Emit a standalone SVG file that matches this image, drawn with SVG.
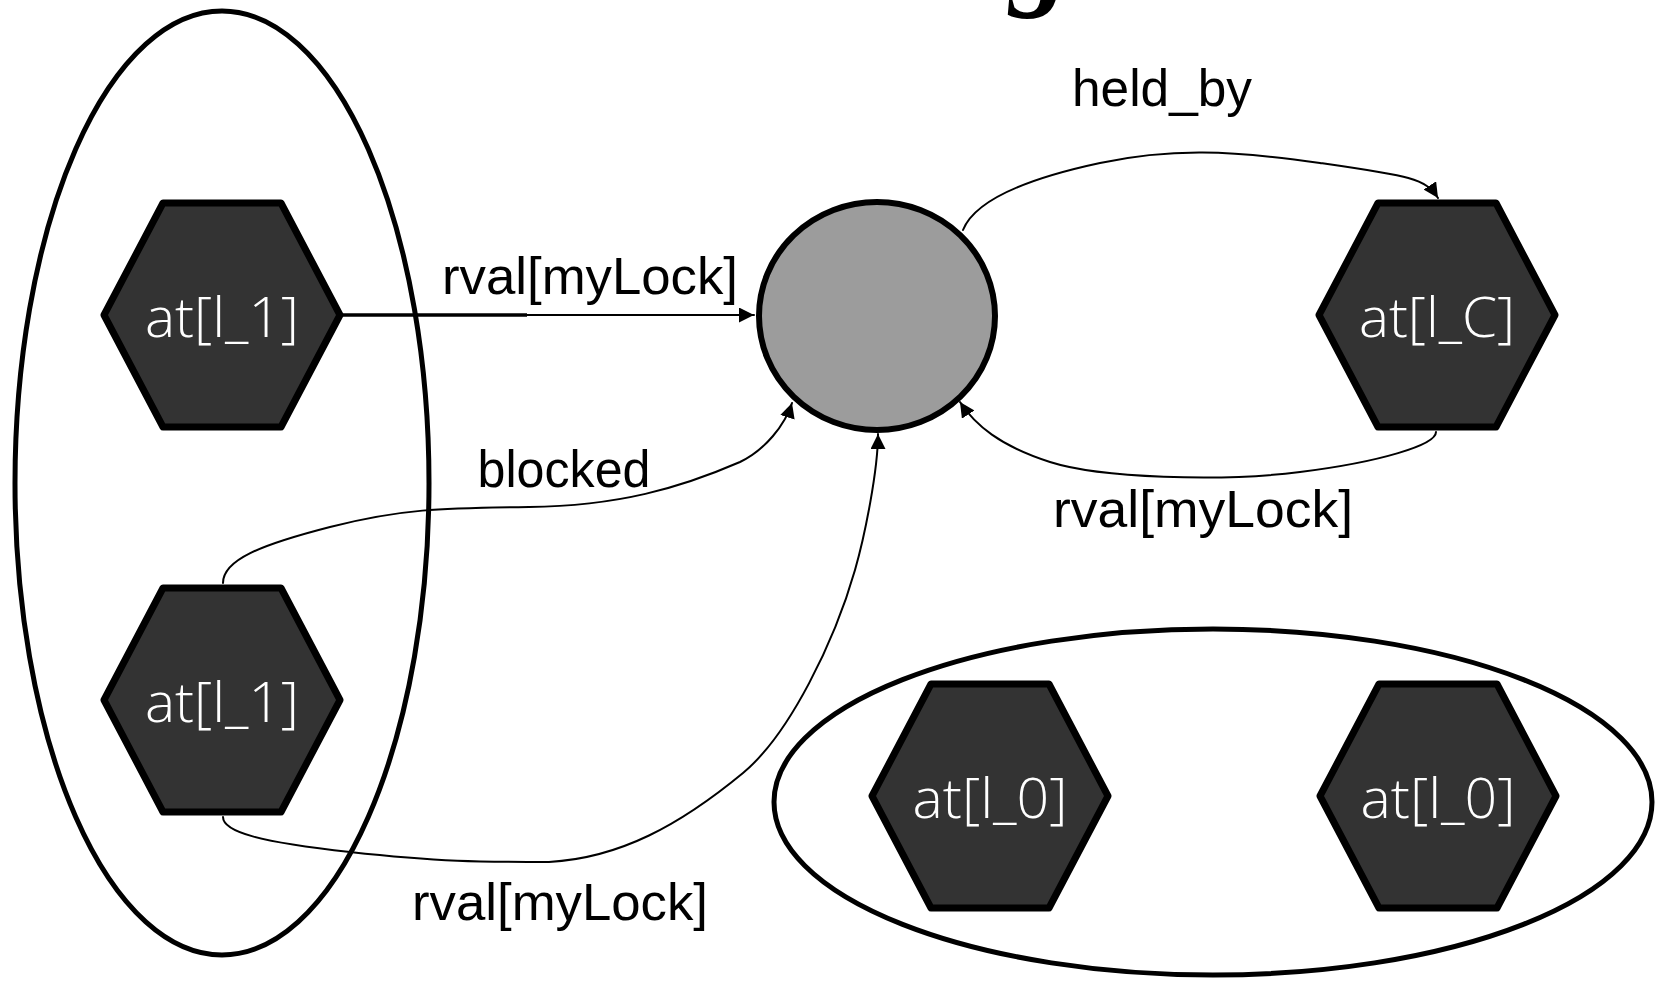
<svg xmlns="http://www.w3.org/2000/svg" width="1663" height="983" viewBox="0 0 1663 983">
<style>
.grp{fill:none;stroke:#000;stroke-width:5}
.hex{fill:#333333;stroke:#000;stroke-width:7;stroke-linejoin:round}
.nl{font-family:"Open Sans","Liberation Sans",sans-serif;font-weight:300;font-size:56px;fill:#ffffff;text-anchor:middle}
.el{font-family:"Liberation Sans",Arial,sans-serif;font-size:52px;fill:#000;text-anchor:middle}
.c{fill:none;stroke:#000;stroke-width:2;stroke-linejoin:round;stroke-linecap:round}
</style>
<defs>
<path id="hx" d="M-118,0 L-59,-112 L59,-112 L118,0 L59,112 L-59,112 Z"/>
<marker id="ah" markerUnits="userSpaceOnUse" markerWidth="16" markerHeight="16" refX="15" refY="7.5" orient="auto">
<path d="M0,0 L15,7.5 L0,15 Z" fill="#000"/>
</marker>
</defs>
<rect width="1663" height="983" fill="#fff"/>
<text x="1010" y="-7" font-family="'Liberation Serif',serif" font-style="italic" font-weight="bold" font-size="120" fill="#000">g</text>
<g id="group-left"><ellipse class="grp" cx="222" cy="483" rx="207" ry="472"/></g>
<g id="group-bottom"><ellipse class="grp" cx="1213" cy="802" rx="439" ry="173"/></g>
<g id="connectors">
<path d="M343,315 L527,315" stroke="#000" stroke-width="3.5" fill="none"/>
<path class="c" d="M343,315 L754,315" marker-end="url(#ah)"/>
<text class="el" x="590" y="294" textLength="296" lengthAdjust="spacingAndGlyphs">rval[myLock]</text>
<path class="c" d="M963,230 C975,200 1030,178 1100,163 S1230,150 1320,163 S1425,178 1438,198" marker-end="url(#ah)"/>
<text class="el" x="1162" y="106" textLength="180" lengthAdjust="spacingAndGlyphs">held_by</text>
<path class="c" d="M1436,432 C1436,445 1380,462 1300,472 S1100,478 1050,462 S975,425 960,402" marker-end="url(#ah)"/>
<text class="el" x="1203" y="527" textLength="300" lengthAdjust="spacingAndGlyphs">rval[myLock]</text>
<path class="c" d="M223,583 C223,560 260,545 330,527 S440,508 529,507 S680,488 740,462 C765,450 785,425 792,403" marker-end="url(#ah)"/>
<text class="el" x="564" y="487" textLength="173" lengthAdjust="spacingAndGlyphs">blocked</text>
<path class="c" d="M223,817 C223,832 260,842 350,852 S480,862 549,862 C620,858 680,825 743,773 C790,734 835,640 855,570 C865,535 878,470 878,434" marker-end="url(#ah)"/>
<text class="el" x="560" y="920" textLength="296" lengthAdjust="spacingAndGlyphs">rval[myLock]</text>
</g>
<g id="lock"><ellipse cx="877" cy="316" rx="118" ry="114" fill="#9c9c9c" stroke="#000" stroke-width="6"/></g>
<g id="t1a"><use href="#hx" class="hex" x="222" y="315"/><text class="nl" x="222" y="337" textLength="154" lengthAdjust="spacingAndGlyphs">at[l_1]</text></g>
<g id="t1b"><use href="#hx" class="hex" x="222" y="700"/><text class="nl" x="222" y="722" textLength="154" lengthAdjust="spacingAndGlyphs">at[l_1]</text></g>
<g id="tC"><use href="#hx" class="hex" x="1437" y="315"/><text class="nl" x="1437" y="337" textLength="156" lengthAdjust="spacingAndGlyphs">at[l_C]</text></g>
<g id="t0a"><use href="#hx" class="hex" x="990" y="796"/><text class="nl" x="990" y="818" textLength="155" lengthAdjust="spacingAndGlyphs">at[l_0]</text></g>
<g id="t0b"><use href="#hx" class="hex" x="1438" y="796"/><text class="nl" x="1438" y="818" textLength="155" lengthAdjust="spacingAndGlyphs">at[l_0]</text></g>
</svg>
